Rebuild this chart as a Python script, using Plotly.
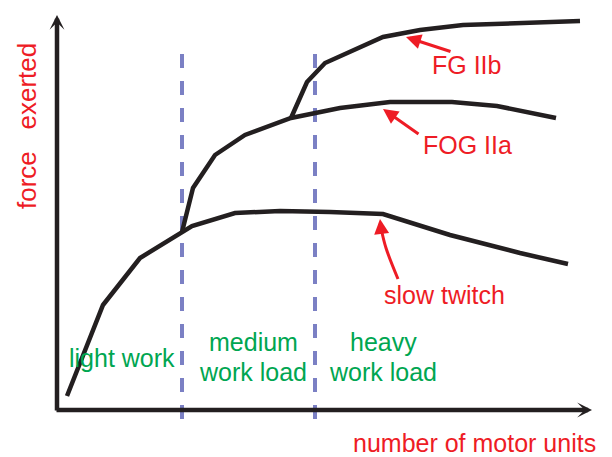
import plotly.graph_objects as go

# ---- data (x: number of motor units, y: force exerted; arbitrary units) ----
slow_x = [10, 46, 83, 125, 135, 178, 223, 273, 326, 393, 463, 511]
slow_y = [14, 105, 152, 178, 184, 197, 199, 198, 196, 175, 157, 146]

fog_x = [125, 136, 158, 188, 234, 258, 283, 333, 395, 440, 499]
fog_y = [178, 222, 255, 275, 292, 297, 302, 308, 308, 304, 292]

fg_x = [234, 250, 268, 326, 363, 406, 523]
fg_y = [292, 328, 347, 373, 380, 385, 389]

region_bounds = [125, 258]          # medium / heavy work load boundaries
bound_span = [356, -18]

region_labels = ["light work", "medium<br>work load", "heavy<br>work load"]
curve_labels = ["FG IIb", "FOG IIa", "slow twitch"]
x_title = "number of motor units"
y_title = "force   exerted"

RED = "#ee1c25"
GREEN = "#00a651"
BLUE = "#7b80c4"
BLACK = "#231f20"
FONT = "Liberation Sans"

fig = go.Figure()

for xb in region_bounds:
    fig.add_trace(go.Scatter(x=[xb, xb], y=bound_span, mode="lines",
                             line=dict(color=BLUE, width=4, dash="14px,13px"),
                             hoverinfo="skip"))

for xs, ys in [(slow_x, slow_y), (fog_x, fog_y), (fg_x, fg_y)]:
    fig.add_trace(go.Scatter(x=xs, y=ys, mode="lines",
                             line=dict(color=BLACK, width=4.5),
                             hoverinfo="skip"))

# curved arrow shaft for slow twitch
fig.add_trace(go.Scatter(x=[341, 329, 324], y=[131, 162, 182], mode="lines",
                         line=dict(color=RED, width=3, shape="spline"),
                         hoverinfo="skip"))

ann = []
# axes arrows
ann.append(dict(x=535, y=0, ax=-2, ay=0, xref="x", yref="y", axref="x", ayref="y",
                text="", showarrow=True, arrowhead=3, arrowsize=0.55,
                arrowwidth=4.5, arrowcolor=BLACK))
ann.append(dict(x=0, y=395, ax=0, ay=-2, xref="x", yref="y", axref="x", ayref="y",
                text="", showarrow=True, arrowhead=3, arrowsize=0.55,
                arrowwidth=4.5, arrowcolor=BLACK))

# red pointer arrows
ann.append(dict(x=349, y=373, ax=395, ay=358, xref="x", yref="y", axref="x", ayref="y",
                text="", showarrow=True, arrowhead=2, arrowsize=1.0,
                arrowwidth=3, arrowcolor=RED))
ann.append(dict(x=326, y=301, ax=363, ay=275, xref="x", yref="y", axref="x", ayref="y",
                text="", showarrow=True, arrowhead=2, arrowsize=1.0,
                arrowwidth=3, arrowcolor=RED))
ann.append(dict(x=323, y=191, ax=324, ay=182, xref="x", yref="y", axref="x", ayref="y",
                text="", showarrow=True, arrowhead=2, arrowsize=1.0,
                arrowwidth=3, arrowcolor=RED))

def label(x, y, text, color, angle=0, size=25):
    return dict(x=x, y=y, xref="x", yref="y", text=text, showarrow=False,
                font=dict(family=FONT, size=size, color=color),
                xanchor="center", yanchor="middle", textangle=angle)

ann.append(label(409, 345, curve_labels[0], RED))
ann.append(label(410, 265, curve_labels[1], RED))
ann.append(label(387, 115, curve_labels[2], RED))
ann.append(label(417, -33, x_title, RED))
ann.append(label(-30, 284, y_title, RED, angle=-90, size=26))

ann.append(label(65, 52, region_labels[0], GREEN))
for xc, txt in [(196, region_labels[1]), (326, region_labels[2])]:
    top, bottom = txt.split("<br>")
    ann.append(label(xc, 68, top, GREEN))
    ann.append(label(xc, 38, bottom, GREEN))

fig.update_layout(
    width=612, height=457,
    margin=dict(l=0, r=0, t=0, b=0),
    paper_bgcolor="white", plot_bgcolor="white",
    showlegend=False,
    xaxis=dict(range=[-57, 555], visible=False, fixedrange=True),
    yaxis=dict(range=[-47, 410], visible=False, fixedrange=True),
    annotations=ann,
)

fig.write_html("out.html", config={"displayModeBar": False},
               post_script="document.body.style.margin='0';document.body.style.overflow='hidden';")
